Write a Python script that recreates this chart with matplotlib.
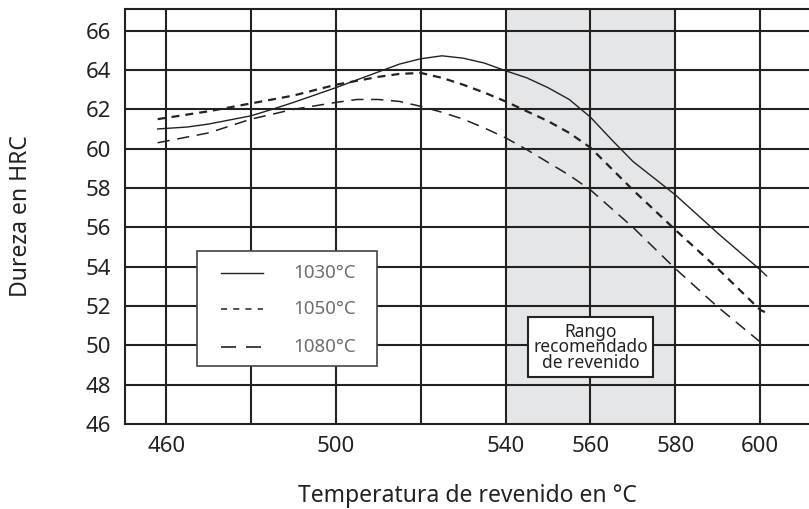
import matplotlib
matplotlib.use("Agg")
import matplotlib.pyplot as plt
from matplotlib.patches import Rectangle

plt.rcParams['font.family'] = ['Noto Sans', 'DejaVu Sans']

# temperaturas de revenido
temp_1030 = [458, 465, 470, 480, 485, 490, 500, 505, 510, 515, 520, 525, 530, 535, 540, 545, 550, 555, 560, 565, 570, 575, 580, 590, 600, 601.5]
hrc_1030 = [61.0, 61.1, 61.25, 61.67, 62.0, 62.35, 63.1, 63.5, 63.9, 64.3, 64.57, 64.72, 64.6, 64.35, 63.96, 63.6, 63.1, 62.5, 61.6, 60.45, 59.35, 58.5, 57.65, 55.7, 53.84, 53.53]

temp_1050 = [458, 470, 480, 490, 500, 505, 510, 515, 520, 525, 530, 535, 540, 545, 550, 555, 560, 570, 580, 590, 600, 601.5]
hrc_1050 = [61.5, 61.9, 62.3, 62.7, 63.25, 63.45, 63.65, 63.8, 63.85, 63.6, 63.25, 62.85, 62.4, 61.9, 61.4, 60.8, 60.05, 57.9, 55.87, 53.9, 51.8, 51.65]

temp_1080 = [458, 470, 480, 490, 500, 505, 510, 515, 520, 525, 530, 535, 540, 545, 550, 555, 560, 570, 580, 590, 600, 601.5]
hrc_1080 = [60.3, 60.8, 61.5, 62.0, 62.35, 62.5, 62.5, 62.4, 62.15, 61.85, 61.5, 61.05, 60.55, 59.95, 59.3, 58.65, 57.9, 56.0, 53.9, 51.95, 50.17, 50.0]

labels = ['1030°C', '1050°C', '1080°C']
rango = (540, 580)
x_ticks = [460, 480, 500, 520, 540, 560, 580, 600]
x_labels = ['460', '', '500', '', '540', '560', '580', '600']
y_ticks = [46, 48, 50, 52, 54, 56, 58, 60, 62, 64, 66]

ink = '#222222'

fig = plt.figure(figsize=(8.09, 5.09), dpi=100)
ax = fig.add_axes([125 / 809, 1 - 424 / 509, 1 - 125 / 809, 415 / 509])

ax.axvspan(rango[0], rango[1], color='#e5e6e8', zorder=0, lw=0)

for x in x_ticks:
    ax.axvline(x, color=ink, lw=1.5, zorder=1)
for y in y_ticks[1:]:
    ax.axhline(y, color=ink, lw=1.5, zorder=1)

styles = [dict(lw=1.0, ls='-'),
          dict(lw=1.6, ls=(0, (3.6, 2.7))),
          dict(lw=1.1, ls=(0, (8, 5)))]

ax.plot(temp_1030, hrc_1030, color=ink, zorder=3, **styles[0])
ax.plot(temp_1050, hrc_1050, color=ink, zorder=3, **styles[1])
ax.plot(temp_1080, hrc_1080, color=ink, zorder=3, **styles[2])

ax.set_xlim(450.3, 611.5)
ax.set_ylim(46, 67.1)
ax.set_xticks(x_ticks)
ax.set_xticklabels(x_labels)
ax.set_yticks(y_ticks)
ax.tick_params(length=0, labelsize=16, colors=ink)
ax.tick_params(axis='y', pad=10)
ax.tick_params(axis='x', pad=9)
for lab in ax.get_xticklabels() + ax.get_yticklabels():
    lab.set_fontweight('medium')

for side in ['left', 'bottom', 'top']:
    ax.spines[side].set_linewidth(1.5)
    ax.spines[side].set_color(ink)
ax.spines['right'].set_visible(False)

ax.set_xlabel('Temperatura de revenido en °C', fontsize=16.5, fontweight='medium', color=ink, labelpad=19)
ax.set_ylabel('Dureza en HRC', fontsize=16.5, fontweight='medium', color=ink, labelpad=38)

# leyenda dibujada a mano en coordenadas del eje
ax.add_patch(Rectangle((0.1053, 0.1398), 0.2631, 0.2771, transform=ax.transAxes,
                       facecolor='white', edgecolor='#444444', lw=1.2, zorder=5))
rows = [0.3639, 0.2771, 0.1855]
leg_styles = [dict(lw=1.0, ls='-'),
              dict(lw=1.1, ls=(0, (4, 4))),
              dict(lw=1.2, ls=(0, (9, 6)))]
for yy, lab, st in zip(rows, labels, leg_styles):
    ax.plot([0.1404, 0.2018], [yy, yy], transform=ax.transAxes, color=ink, zorder=6, **st)
    ax.text(0.2456, yy, lab, transform=ax.transAxes, va='center', ha='left',
            fontsize=13.5, color='#6e6e6e', zorder=6)

ax.text(560, 49.9, 'Rango\nrecomendado\nde revenido', ha='center', va='center',
        fontsize=12.5, fontweight='medium', linespacing=0.82, color=ink, zorder=6,
        bbox=dict(boxstyle='square,pad=0.32', facecolor='white', edgecolor=ink, lw=1.5))

fig.savefig('out.png', dpi=100)
